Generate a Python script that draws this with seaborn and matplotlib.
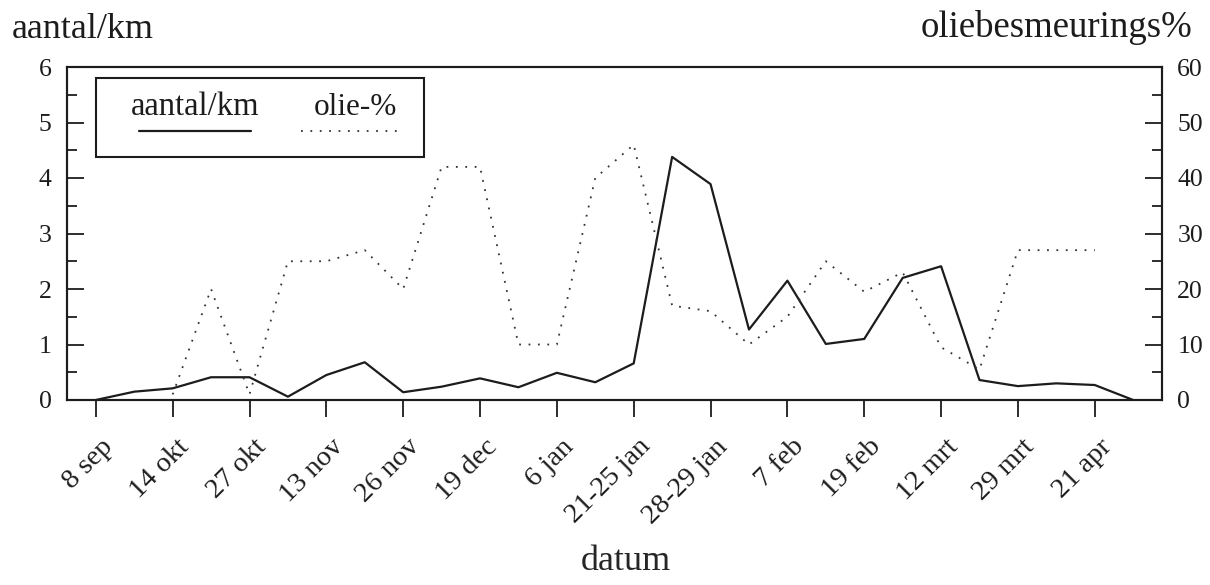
import numpy as np
import pandas as pd
import matplotlib
matplotlib.use("Agg")
import matplotlib.pyplot as plt
from matplotlib.patches import Rectangle
from matplotlib.lines import Line2D
from matplotlib.ticker import MultipleLocator
from matplotlib.transforms import ScaledTranslation
import seaborn as sns

# Labelled sampling dates (every other survey)
tick_dates = ["8 sep", "14 okt", "27 okt", "13 nov", "26 nov", "19 dec", "6 jan",
              "21-25 jan", "28-29 jan", "7 feb", "19 feb", "12 mrt", "29 mrt", "21 apr"]

# Number of birds per km, one value per survey
aantal_per_km = [0.00, 0.15, 0.21, 0.41, 0.41, 0.06, 0.45, 0.68, 0.14, 0.24,
                 0.39, 0.23, 0.49, 0.32, 0.66, 4.38, 3.89, 1.27, 2.15, 1.01,
                 1.10, 2.20, 2.41, 0.36, 0.25, 0.30, 0.27, 0.00]

# Share of oiled birds (%), missing where no birds were checked
olie_pct = [np.nan, np.nan, 1, 20, 1, 25, 25, 27, 20, 42,
            42, 10, 10, 40, 46, 17, 16, 10, 15, 25,
            19.5, 23, 9.5, 5.5, 27, 27, 27, np.nan]

sns.set_theme(style="ticks")
plt.rcParams["font.family"] = ["Liberation Serif", "DejaVu Serif"]
ink = "#1c1c1c"
plt.rcParams["text.color"] = ink
plt.rcParams["xtick.color"] = ink
plt.rcParams["ytick.color"] = ink
plt.rcParams["axes.edgecolor"] = ink

n = len(aantal_per_km)
df = pd.DataFrame({"pos": np.arange(n), "aantal": aantal_per_km, "olie": olie_pct})

W, H = 1210, 585
fig = plt.figure(figsize=(W / 100, H / 100), dpi=100)
ax = fig.add_axes([67 / W, 1 - 400 / H, 1095 / W, 333 / H])
ax2 = ax.twinx()

sns.lineplot(data=df, x="pos", y="aantal", ax=ax, color=ink, linewidth=1.6)
sns.lineplot(data=df.dropna(subset=["olie"]), x="pos", y="olie", ax=ax2,
             color="#333333", linewidth=1.3, linestyle=(0, (1, 4.2)))

ax.set_xlim(-0.75, n - 1 + 0.75)
ax.set_ylim(0, 6)
ax2.set_ylim(0, 60)

ax.yaxis.set_major_locator(MultipleLocator(1))
ax.yaxis.set_minor_locator(MultipleLocator(0.5))
ax2.yaxis.set_major_locator(MultipleLocator(10))
ax2.yaxis.set_minor_locator(MultipleLocator(5))

fs_tick = 18.5
ax.tick_params(axis="y", which="major", direction="in", length=12, width=1.3,
               labelsize=fs_tick, pad=11)
ax.tick_params(axis="y", which="minor", direction="in", length=7, width=1.3)
ax2.tick_params(axis="y", which="major", direction="in", length=12, width=1.3,
                labelsize=fs_tick, pad=11)
ax2.tick_params(axis="y", which="minor", direction="in", length=7, width=1.3)
ax.tick_params(axis="x", direction="out", length=12, width=1.3,
               labelsize=20.5, pad=19)

ax.set_xticks(np.arange(0, n, 2))
ax.set_xticklabels(tick_dates, rotation=45, ha="right", va="center",
                   rotation_mode="anchor")
# Nudge the slanted date labels a little to the right of their ticks
shift = ScaledTranslation(13 / 100, 0, fig.dpi_scale_trans)
for tick in ax.xaxis.get_major_ticks():
    tick.label1.set_transform(tick.label1.get_transform() + shift)

for a in (ax, ax2):
    for s in a.spines.values():
        s.set_linewidth(1.5)
        s.set_color(ink)

ax.set_ylabel("")
ax2.set_ylabel("")
ax.set_xlabel("datum", fontsize=26)
ax.xaxis.set_label_coords(0.5105, -0.435)

fig.text(12 / W, 1 - 38 / H, "aantal/km", fontsize=26, ha="left", va="baseline")
fig.text(1192 / W, 1 - 37 / H, "oliebesmeurings%", fontsize=26.5, ha="right",
         va="baseline")

# Legend box with labels above their line samples
ax.add_patch(Rectangle((0.0265, 0.730), 0.2995, 0.237, transform=ax.transAxes,
                       fill=False, edgecolor=ink, linewidth=1.5, zorder=5))
ax.text(0.117, 0.856, "aantal/km", transform=ax.transAxes, fontsize=23.5,
        ha="center", va="baseline", zorder=6)
ax.text(0.263, 0.856, "olie-%", transform=ax.transAxes, fontsize=22.5,
        ha="center", va="baseline", zorder=6)
ax.add_line(Line2D([0.0658, 0.168], [0.808, 0.808], transform=ax.transAxes,
                   color=ink, linewidth=1.6, zorder=6))
ax.add_line(Line2D([0.2137, 0.3068], [0.808, 0.808], transform=ax.transAxes,
                   color="#333333", linewidth=1.3, linestyle=(0, (1, 4.2)),
                   zorder=6))

fig.savefig("out.png", dpi=100, facecolor="white")
